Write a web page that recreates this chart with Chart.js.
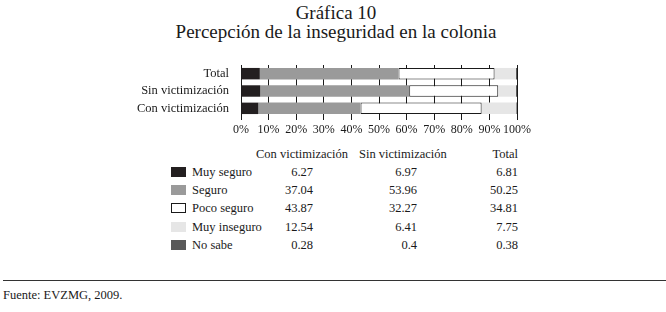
<!DOCTYPE html>
<html>
<head>
<meta charset="utf-8">
<script src="https://cdn.jsdelivr.net/npm/chart.js@4"></script>
<style>
  body { margin: 0; background: #fff; font-family: "Liberation Serif", "Times New Roman", serif; color: #1a1a1a; }
  #page { position: relative; width: 666px; height: 312px; overflow: hidden; }
  .t { position: absolute; white-space: nowrap; }
  .title { left: 3px; width: 666px; text-align: center; font-size: 19px; line-height: 19px; }
  .cell { font-size: 12.5px; line-height: 14px; }
  .sw { position: absolute; width: 15px; height: 10px; box-sizing: border-box; }
  #wrap { position: absolute; left: 0; top: 55px; width: 666px; height: 85px; }
  #rule { position: absolute; left: 3px; top: 280px; width: 663px; height: 1px; background: #333; }
</style>
</head>
<body>
<div id="page">
  <div class="t title" style="top:3px">Gráfica 10</div>
  <div class="t title" style="top:22px">Percepción de la inseguridad en la colonia</div>
  <div id="wrap"><canvas id="chart"></canvas></div>
  <div id="table"></div>
  <div id="rule"></div>
  <div class="t cell" style="left:3px; top:288px">Fuente: EVZMG, 2009.</div>
</div>
<script>
// Data
const categories = ['Total', 'Sin victimización', 'Con victimización'];
const seriesNames = ['Muy seguro', 'Seguro', 'Poco seguro', 'Muy inseguro', 'No sabe'];
const seriesColors = ['#231f20', '#9a9a9a', '#ffffff', '#e6e6e6', '#595959'];
// values per series, in the order [Total, Sin victimización, Con victimización]
const muySeguro   = [6.81, 6.97, 6.27];
const seguro      = [50.25, 53.96, 37.04];
const pocoSeguro  = [34.81, 32.27, 43.87];
const muyInseguro = [7.75, 6.41, 12.54];
const noSabe      = [0.38, 0.4, 0.28];
// text shown in the table (as printed)
const tableHeaders = ['Con victimización', 'Sin victimización', 'Total'];
const tableText = [
    ['6.27', '6.97', '6.81'],
    ['37.04', '53.96', '50.25'],
    ['43.87', '32.27', '34.81'],
    ['12.54', '6.41', '7.75'],
    ['0.28', '0.4', '0.38']
];
const xTicks = [0, 10, 20, 30, 40, 50, 60, 70, 80, 90, 100];

const allSeries = [muySeguro, seguro, pocoSeguro, muyInseguro, noSabe];
const FONT = '"Liberation Serif", "Times New Roman", serif';
const INK = '#1a1a1a';

// --- CHART ---
function initChart() {
    const datasets = allSeries.map((vals, i) => ({
        label: seriesNames[i],
        data: vals,
        backgroundColor: seriesColors[i],
        borderColor: i === 2 ? INK : seriesColors[i],
        borderWidth: i === 2 ? 1 : 0,
        borderSkipped: false,
        barPercentage: 0.66,
        categoryPercentage: 1
    }));

    new Chart(document.getElementById('chart').getContext('2d'), {
        type: 'bar',
        data: { labels: categories, datasets },
        options: {
            indexAxis: 'y',
            responsive: true,
            maintainAspectRatio: false,
            animation: false,
            layout: { padding: { left: 0, right: 149, top: 10, bottom: 0 } },
            plugins: { legend: { display: false }, tooltip: { enabled: false } },
            scales: {
                x: {
                    stacked: true, min: 0, max: 100,
                    afterFit: s => { s.height = 23; s.paddingLeft = 0; s.paddingRight = 0; },
                    afterBuildTicks: s => { s.ticks = xTicks.map(v => ({ value: v })); },
                    grid: { color: INK, lineWidth: 1, drawTicks: true, tickLength: 3 },
                    border: { display: false },
                    ticks: { color: INK, padding: 3, maxRotation: 0, autoSkip: false,
                             font: { family: FONT, size: 12 }, callback: v => v + '%' }
                },
                y: {
                    stacked: true,
                    afterFit: s => { s.width = 241; s.paddingTop = 0; s.paddingBottom = 0; },
                    grid: { display: false, drawTicks: false },
                    border: { display: true, color: INK, width: 1 },
                    ticks: { color: INK, padding: 12, autoSkip: false, font: { family: FONT, size: 12.5 } }
                }
            }
        }
    });
}

// --- TABLE ---
function buildTable() {
    const table = document.getElementById('table');
    const add = (text, style, cls) => {
        const d = document.createElement('div');
        d.className = cls || 't cell';
        d.style.cssText = style;
        if (text !== null) d.textContent = text;
        table.appendChild(d);
    };
    add(tableHeaders[0], 'left:256px; top:147px');
    add(tableHeaders[1], 'left:359px; top:147px');
    add(tableHeaders[2], 'right:148px; top:147px');
    const rowTops = [165, 183, 201, 219.5, 237.5];
    const rights = [353, 249, 148]; // right offsets from page edge (666 - x)
    seriesNames.forEach((name, i) => {
        const top = rowTops[i];
        const border = i === 2 ? 'border:1px solid ' + INK + ';' : '';
        add(null, `left:171px; top:${top + 2}px; background:${seriesColors[i]}; ${border}`, 'sw');
        add(name, `left:192px; top:${top}px`);
        tableText[i].forEach((txt, j) => add(txt, `right:${rights[j]}px; top:${top}px`));
    });
}

window.addEventListener('DOMContentLoaded', () => { buildTable(); initChart(); });
</script>
</body>
</html>
